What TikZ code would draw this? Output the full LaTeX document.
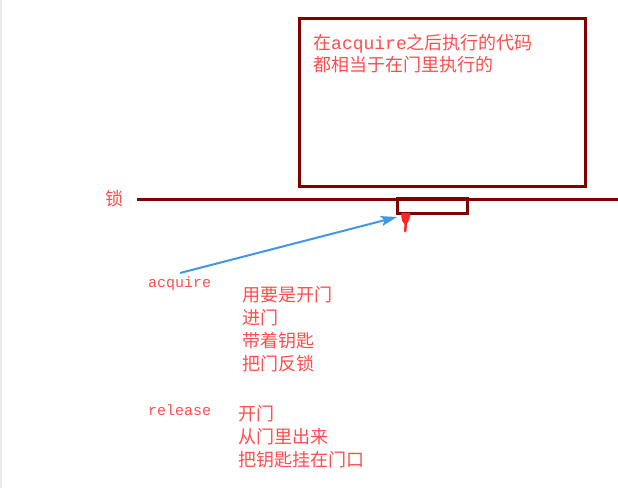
\documentclass[tikz,border=0pt]{standalone}
\usepackage{fontspec}
\newfontfamily\cjk{Noto Sans CJK SC}
\newfontfamily\mono{Liberation Mono}
\usetikzlibrary{arrows.meta}
\definecolor{lockred}{RGB}{128,0,0}
\definecolor{notered}{RGB}{255,77,77}
\definecolor{keyred}{RGB}{245,40,40}
\definecolor{arrowblue}{RGB}{66,150,230}
\tikzset{
	note/.style={anchor=west, inner sep=0pt, text=notered, font=\cjk\fontsize{18}{22}\selectfont},
	code/.style={anchor=west, inner sep=0pt, text=notered, font=\mono\fontsize{15}{18}\selectfont},
	lockline/.style={draw=lockred, line width=3},
}
\begin{document}
\begin{tikzpicture}[x=1pt,y=-1pt]
		\useasboundingbox (0,0) rectangle (618,488);
		\draw[black!8, line width=1.5] (0.75,0) -- (0.75,488);
		
		% the room behind the door
		\node[lockline, minimum width=286, minimum height=168, inner sep=0] (room) at (442,102) {};
		\node[note, align=left] (inside) at (313,54) {在{\mono acquire}之后执行的代码\\都相当于在门里执行的};
		
		% the lock
		\coordinate (lockL) at (137,199);
		\coordinate (lockR) at (618,199);
		\draw[lockline] (lockL) -- (lockR);
		\node[note] (locklabel) at (105,199) {锁};
		\node[lockline, minimum width=70, minimum height=15, inner sep=0] (keyhole) at (432,205.5) {};
		\fill[keyred] (401.5,213) -- (410,213) .. controls (410.5,220) and (407.5,222) .. (407,224) -- (406.5,231) .. controls (406,233) and (404,233) .. (404,231) -- (404.5,224) .. controls (402,222) and (401,219) .. cycle;
		
		% acquire
		\coordinate (acqtail) at (180,273);
		\coordinate (acqhead) at (397,217);
		\draw[arrowblue, line width=2, -{Stealth[length=16, width=10, inset=3]}] (acqtail) -- (acqhead);
		\node[code] (acquire) at (148,284) {acquire};
		\foreach \t [count=\i] in {用要是开门, 进门, 带着钥匙, 把门反锁}{
			\node[note] (acq\i) at (242,272+23*\i) {\t};
		}
		
		% release
		\node[code] (release) at (148,410) {release};
		\foreach \t [count=\i] in {开门, 从门里出来, 把钥匙挂在门口}{
			\node[note] (rel\i) at (238,391+23*\i) {\t};
		}
\end{tikzpicture}
\end{document}
